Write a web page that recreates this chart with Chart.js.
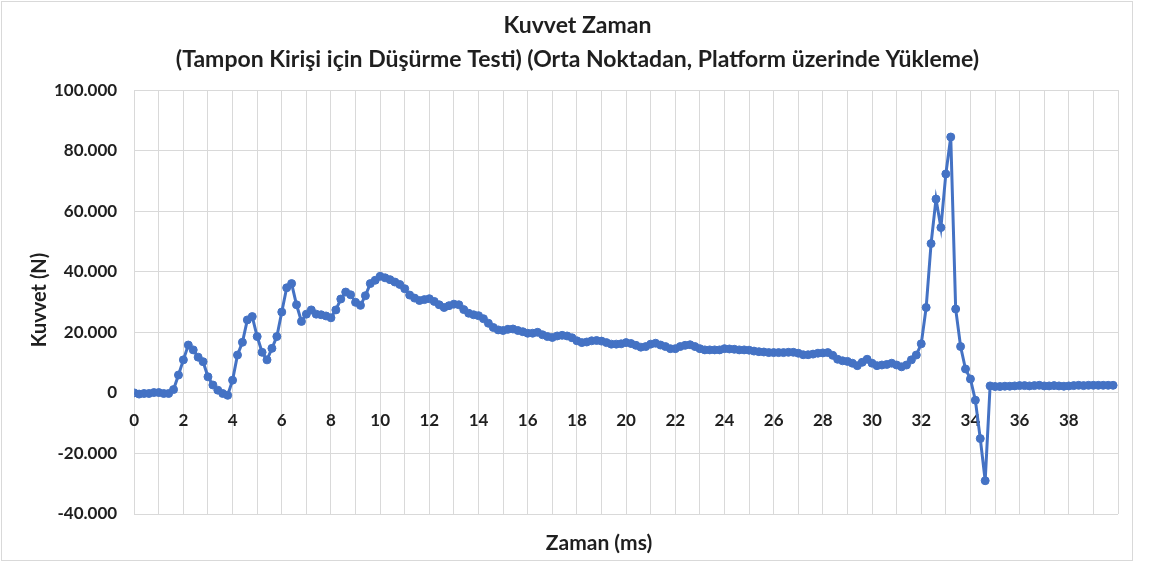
<!DOCTYPE html>
<html>
<head>
<meta charset="utf-8">
<script src="https://cdn.jsdelivr.net/npm/chart.js@4"></script>
<style>
	body { margin: 0; background: #fff; }
	#container { position: relative; width: 1150px; height: 565px; }
	#frame { position: absolute; left: 1px; top: 1px; width: 1132px; height: 560px; border: 1px solid #d9d9d9; box-sizing: border-box; pointer-events: none; }
</style>
</head>
<body>
<div id="container">
	<canvas id="chart" width="1150" height="565"></canvas>
	<div id="frame"></div>
</div>
<script>
// titres
const chartTitle = ["Kuvvet Zaman", "(Tampon Kirişi için Düşürme Testi) (Orta Noktadan, Platform üzerinde Yükleme)"]
const xTitle = "Zaman (ms)"
const yTitle = "Kuvvet (N)"

// temps (ms)
const times = [
	0, 0.2, 0.4, 0.6, 0.8, 1, 1.2, 1.4, 1.6, 1.8,
	2, 2.2, 2.4, 2.6, 2.8, 3, 3.2, 3.4, 3.6, 3.8,
	4, 4.2, 4.4, 4.6, 4.8, 5, 5.2, 5.4, 5.6, 5.8,
	6, 6.2, 6.4, 6.6, 6.8, 7, 7.2, 7.4, 7.6, 7.8,
	8, 8.2, 8.4, 8.6, 8.8, 9, 9.2, 9.4, 9.6, 9.8,
	10, 10.2, 10.4, 10.6, 10.8, 11, 11.2, 11.4, 11.6, 11.8,
	12, 12.2, 12.4, 12.6, 12.8, 13, 13.2, 13.4, 13.6, 13.8,
	14, 14.2, 14.4, 14.6, 14.8, 15, 15.2, 15.4, 15.6, 15.8,
	16, 16.2, 16.4, 16.6, 16.8, 17, 17.2, 17.4, 17.6, 17.8,
	18, 18.2, 18.4, 18.6, 18.8, 19, 19.2, 19.4, 19.6, 19.8,
	20, 20.2, 20.4, 20.6, 20.8, 21, 21.2, 21.4, 21.6, 21.8,
	22, 22.2, 22.4, 22.6, 22.8, 23, 23.2, 23.4, 23.6, 23.8,
	24, 24.2, 24.4, 24.6, 24.8, 25, 25.2, 25.4, 25.6, 25.8,
	26, 26.2, 26.4, 26.6, 26.8, 27, 27.2, 27.4, 27.6, 27.8,
	28, 28.2, 28.4, 28.6, 28.8, 29, 29.2, 29.4, 29.6, 29.8,
	30, 30.2, 30.4, 30.6, 30.8, 31, 31.2, 31.4, 31.6, 31.8,
	32, 32.2, 32.4, 32.6, 32.8, 33, 33.2, 33.4, 33.6, 33.8,
	34, 34.2, 34.4, 34.6, 34.8, 35, 35.2, 35.4, 35.6, 35.8,
	36, 36.2, 36.4, 36.6, 36.8, 37, 37.2, 37.4, 37.6, 37.8,
	38, 38.2, 38.4, 38.6, 38.8, 39, 39.2, 39.4, 39.6, 39.8
]

// kuvvet (N)
const forces = [
	0, -400, -200, -200, 100, 100, -200, -200, 1100, 5900,
	10900, 15800, 14200, 11800, 10300, 5300, 2600, 900, -200, -800,
	4200, 12500, 16700, 24100, 25200, 18600, 13400, 10900, 14700, 18600,
	26700, 34700, 36100, 29100, 23600, 26000, 27400, 26000, 25800, 25400,
	24800, 27400, 31000, 33300, 32400, 29900, 28900, 32100, 36100, 37200,
	38500, 38000, 37400, 36600, 35800, 34400, 32300, 31300, 30500, 30800,
	31100, 30200, 29100, 28200, 28800, 29300, 29100, 27500, 26300, 25800,
	25500, 24500, 23000, 21600, 20800, 20600, 21000, 21100, 20600, 20200,
	19700, 19700, 20000, 19200, 18600, 18300, 18800, 19000, 18800, 18200,
	17200, 16600, 16800, 17200, 17300, 17100, 16600, 16100, 16100, 16200,
	16600, 16300, 15700, 15100, 15300, 16100, 16400, 15800, 15300, 14600,
	14600, 15300, 15700, 15900, 15300, 14600, 14200, 14200, 14200, 14200,
	14600, 14500, 14400, 14200, 14200, 14100, 13800, 13600, 13500, 13300,
	13300, 13300, 13300, 13400, 13400, 13100, 12600, 12600, 12800, 13100,
	13200, 13300, 12400, 11100, 10600, 10400, 9800, 9000, 10100, 11100,
	9800, 9000, 9200, 9400, 9800, 9200, 8600, 9200, 10900, 12500,
	16200, 28200, 49300, 64000, 54600, 72300, 84500, 27700, 15300, 7900,
	4600, -2400, -15100, -29000, 2300, 2100, 2100, 2200, 2200, 2300,
	2400, 2400, 2300, 2400, 2500, 2300, 2300, 2400, 2300, 2200,
	2300, 2400, 2500, 2400, 2500, 2500, 2500, 2500, 2500, 2500
]

// axes
const xRange = [0, 40]
const yRange = [-40000, 100000]
const yStep = 20000

const lineColor = '#4472C4'
const gridColor = '#d9d9d9'
const textColor = '#1f1f1f'
const fontFamily = 'Lato, "Open Sans", sans-serif'

// 100000 -> "100.000"
const formatThousands = function(value) {
	const sign = value < 0 ? '-' : ''
	return sign + String(Math.abs(value)).replace(/\B(?=(\d{3})+(?!\d))/g, '.')
}

// titres des axes, placés comme dans Excel
const axisTitlesPlugin = {
	id: 'axisTitles',
	afterDraw(chart) {
		const ctx = chart.ctx
		ctx.save()
		ctx.fillStyle = textColor
		ctx.textAlign = 'center'
		ctx.textBaseline = 'middle'
		ctx.font = 'bold 21px ' + fontFamily
		ctx.fillText(xTitle, 599, 543)
		ctx.font = 'bold 20px ' + fontFamily
		ctx.translate(40, 300)
		ctx.rotate(-Math.PI / 2)
		ctx.fillText(yTitle, 0, 0)
		ctx.restore()
	}
}

const points = times.map((t, i) => ({ x: t, y: forces[i] }))

new Chart(document.getElementById('chart'), {
	type: 'line',
	data: {
		datasets: [
			{
				label: yTitle,
				data: points,
				borderColor: lineColor,
				backgroundColor: lineColor,
				borderWidth: 3,
				pointRadius: 4,
				pointBorderWidth: 1,
				tension: 0
			}
		]
	},
	options: {
		responsive: false,
		animation: false,
		layout: { padding: { left: 37, right: 32, top: 9, bottom: 51 } },
		plugins: {
			legend: { display: false },
			tooltip: { enabled: false },
			title: {
				display: true,
				text: chartTitle,
				color: textColor,
				font: { family: fontFamily, size: 23, weight: 'bold', lineHeight: 1.48 },
				padding: { top: 0, bottom: 13 }
			}
		},
		scales: {
			x: {
				type: 'linear',
				position: { y: 0 },
				min: xRange[0],
				max: xRange[1],
				grid: { color: gridColor, drawTicks: false },
				border: { display: false },
				ticks: {
					stepSize: 1,
					autoSkip: false,
					maxRotation: 0,
					padding: 17,
					color: textColor,
					font: { family: fontFamily, size: 17, weight: 'bold' },
					callback: v => (v % 2 === 0 && v < xRange[1]) ? String(v) : ''
				}
			},
			y: {
				min: yRange[0],
				max: yRange[1],
				grid: { color: gridColor, drawTicks: false },
				border: { display: false },
				ticks: {
					stepSize: yStep,
					padding: 17,
					color: textColor,
					font: { family: fontFamily, size: 17, weight: 'bold' },
					callback: v => formatThousands(v)
				}
			}
		}
	},
	plugins: [axisTitlesPlugin]
})
</script>
</body>
</html>
